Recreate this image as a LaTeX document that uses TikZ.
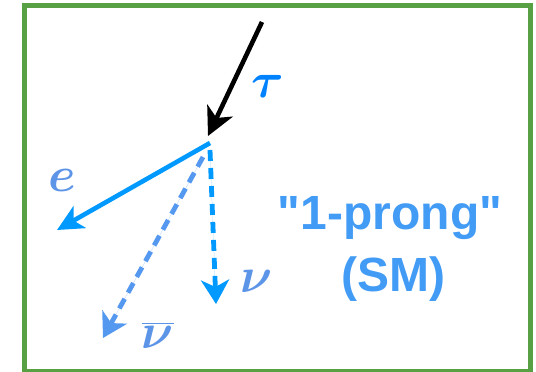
\documentclass[tikz,border=0pt]{standalone}
\usepackage{fontspec}
\setsansfont{Liberation Sans}
\usepackage{bm}
\usetikzlibrary{arrows.meta}
\definecolor{framegreen}{RGB}{88,160,68}
\definecolor{eblue}{RGB}{0,153,255}
\definecolor{nubarblue}{RGB}{85,152,240}
\definecolor{taublue}{RGB}{0,130,255}
\definecolor{symblue}{RGB}{92,148,232}
\definecolor{textblue}{RGB}{66,155,245}
\begin{document}
\begin{tikzpicture}[
    x=0.5pt, y=-0.5pt,
    frame/.style={draw=framegreen, line width=2.5pt},
    incoming/.style={draw=black, line width=2.3pt, -{Stealth[length=14pt, width=14pt, inset=4pt]}},
    lepton/.style={draw=eblue, line width=2.3pt, -{Stealth[length=13pt, width=12.5pt, inset=3.5pt]}},
    neutrino/.style={line width=2.4pt, dash pattern=on 5.5pt off 3.5pt, -{Stealth[length=12pt, width=14pt, inset=3.5pt]}},
    every node/.style={inner sep=0pt},
    particle/.style={font=\fontsize{33}{36}\selectfont},
    prongtext/.style={text=textblue, font=\sffamily\bfseries\fontsize{24}{30}\selectfont}
]
\useasboundingbox (0,0) rectangle (536,371);
\draw[frame] (24.5,5.5) rectangle (530,371);

% decay vertex and track ends
\coordinate (taustart) at (262,22);
\coordinate (tautip) at (208,136);
\coordinate (vertex) at (210,143);
\coordinate (etip) at (57,230);
\coordinate (nustart) at (210,150);
\coordinate (nutip) at (216,304);
\coordinate (nubarstart) at (203,157);
\coordinate (nubartip) at (103,338);

\draw[incoming] (taustart) -- (tautip);
\draw[lepton] (vertex) -- (etip);
\draw[neutrino, draw=eblue, fill=eblue] (nustart) -- (nutip);
\draw[neutrino, draw=nubarblue, fill=nubarblue] (nubarstart) -- (nubartip);

% labels
\node[particle, text=taublue] (tau) at (268,86) {$\bm{\tau}$};
\node[particle, text=symblue, font=\fontsize{28}{30}\selectfont] (e) at (62,180) {$\bm{e}$};
\node[particle, text=symblue] (nu) at (257,281) {$\bm{\nu}$};
\node[particle, text=symblue] (nubar) at (158,335) {$\overline{\bm{\nu}}$};

\node[prongtext, anchor=base] (prong) at (390,229) {\textquotedbl 1-prong\textquotedbl};
\node[prongtext, anchor=base] (sm) at (393,291) {(SM)};
\end{tikzpicture}
\end{document}
